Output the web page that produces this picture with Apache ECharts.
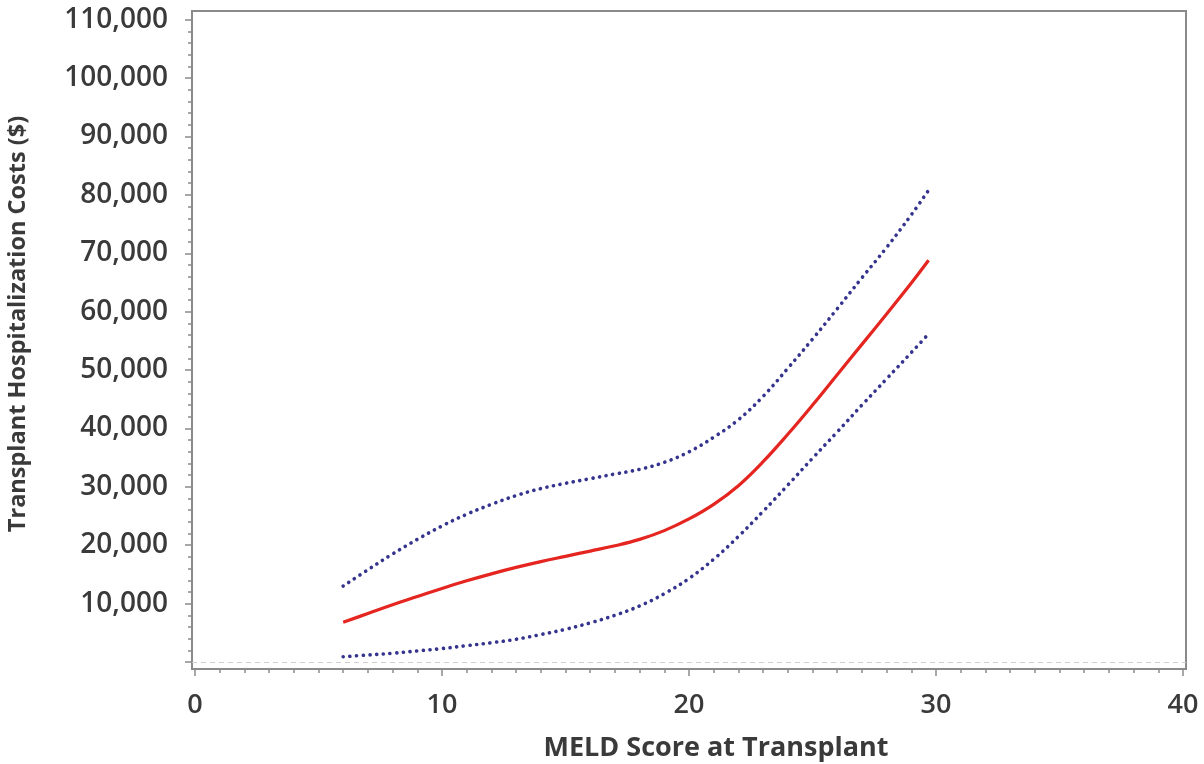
<!DOCTYPE html>
<html>
<head>
<meta charset="utf-8">
<script src="https://cdn.jsdelivr.net/npm/echarts@6/dist/echarts.min.js"></script>
<style>
html,body{margin:0;padding:0;background:#fff;}
#main{width:1204px;height:764px;}
</style>
</head>
<body>
<div id="main"></div>
<script>
// MELD score (x) and cost estimates
var meld = [6, 7, 8, 9, 10, 11, 12, 13, 14, 15, 16, 17, 18, 19, 20, 21, 22, 23, 24, 25, 26, 27, 28, 29, 29.7];
var cost = [6800, 8300, 9800, 11200, 12600, 13900, 15100, 16200, 17200, 18100, 19000, 19900, 21000, 22500, 24500, 27000, 30200, 34300, 39000, 44000, 49200, 54400, 59600, 64900, 68800];
var upper = [13000, 15800, 18500, 21000, 23300, 25300, 27000, 28500, 29700, 30600, 31400, 32200, 33000, 34200, 36000, 38500, 41500, 45500, 50300, 55300, 60500, 65800, 71000, 76600, 80800];
var lower = [900, 1200, 1500, 1900, 2300, 2800, 3300, 3900, 4700, 5600, 6700, 8000, 9600, 11700, 14300, 17600, 21500, 25800, 30300, 34900, 39400, 44000, 48500, 53000, 56200];

var xLabels = [0, 10, 20, 30, 40];
var xMinorTicks = [];
for (var i = 0; i <= 40; i++) xMinorTicks.push(i);
var yLabels = [10000, 20000, 30000, 40000, 50000, 60000, 70000, 80000, 90000, 100000, 110000];
var yMajorTicks = [0].concat(yLabels);
var yMinorTicks = [];
for (var v = 0; v <= 110000; v += 2000) yMinorTicks.push(v);

function pairs(ys){
    var out = [];
    for (var k = 0; k < meld.length; k++) out.push([meld[k], ys[k]]);
    return out;
}

var chart = echarts.init(document.getElementById('main'));
var axisColor = '#8a8a8a';
var textColor = '#3a3a3a';
var font = '"Open Sans", "DejaVu Sans", sans-serif';
var dots = {color: '#34348e', width: 3.6, type: [0.1, 6.6], cap: 'round'};

var option = {
    backgroundColor: '#fff',
    animation: false,
    grid: {
        left: 192, top: 11, right: 18, bottom: 95,
        containLabel: false,
        outerBoundsMode: 'none',
        show: true,
        borderColor: axisColor,
        borderWidth: 2,
        backgroundColor: '#fff'
    },
    xAxis: [
        {
            type: 'value', min: -0.12, max: 40.12,
            name: 'MELD Score at Transplant',
            nameLocation: 'middle',
            nameGap: 66,
            nameTextStyle: {color: textColor, fontSize: 27, fontWeight: 'bold', fontFamily: font, padding: [0, 0, 0, 54]},
            axisLine: {show: true, onZero: false, lineStyle: {color: axisColor, width: 2}},
            axisTick: {show: true, customValues: xLabels, length: 7, lineStyle: {color: axisColor, width: 1.5}},
            axisLabel: {customValues: xLabels, color: textColor, fontSize: 27, fontWeight: 600, fontFamily: font, margin: 23},
            splitLine: {show: false}
        },
        {
            type: 'value', min: -0.12, max: 40.12, position: 'bottom',
            axisLine: {show: false, onZero: false},
            axisTick: {show: true, customValues: xMinorTicks, length: 4, lineStyle: {color: axisColor, width: 1.5}},
            axisLabel: {show: false},
            splitLine: {show: false}
        }
    ],
    yAxis: [
        {
            type: 'value', min: -1200, max: 111500,
            name: 'Transplant Hospitalization Costs ($)',
            nameLocation: 'middle',
            nameGap: 162,
            nameTextStyle: {color: textColor, fontSize: 23.5, fontWeight: 'bold', fontFamily: font, padding: [0, 0, 0, 32]},
            axisLine: {show: true, onZero: false, lineStyle: {color: axisColor, width: 2}},
            axisTick: {show: true, customValues: yMajorTicks, length: 7, lineStyle: {color: axisColor, width: 1.5}},
            axisLabel: {
                customValues: yLabels, color: textColor, fontSize: 28, fontWeight: 600, fontFamily: font, margin: 24,
                formatter: function (val) { return val.toLocaleString('en-US'); }
            },
            splitLine: {show: false}
        },
        {
            type: 'value', min: -1200, max: 111500, position: 'left',
            axisLine: {show: false, onZero: false},
            axisTick: {show: true, customValues: yMinorTicks, length: 4, lineStyle: {color: axisColor, width: 1.5}},
            axisLabel: {show: false},
            splitLine: {show: false}
        }
    ],
    series: [
        {
            name: 'upper',
            type: 'line',
            data: pairs(upper),
            smooth: 0.4,
            showSymbol: false,
            lineStyle: dots,
            markLine: {
                silent: true,
                symbol: 'none',
                label: {show: false},
                lineStyle: {color: '#cfcfcf', width: 1.2, type: [5, 4]},
                data: [{yAxis: 0}]
            }
        },
        {
            name: 'lower',
            type: 'line',
            data: pairs(lower),
            smooth: 0.4,
            showSymbol: false,
            lineStyle: dots
        },
        {
            name: 'cost',
            type: 'line',
            data: pairs(cost),
            smooth: 0.4,
            showSymbol: false,
            lineStyle: {color: '#e42520', width: 3.2}
        }
    ]
};
chart.setOption(option);
</script>
</body>
</html>
